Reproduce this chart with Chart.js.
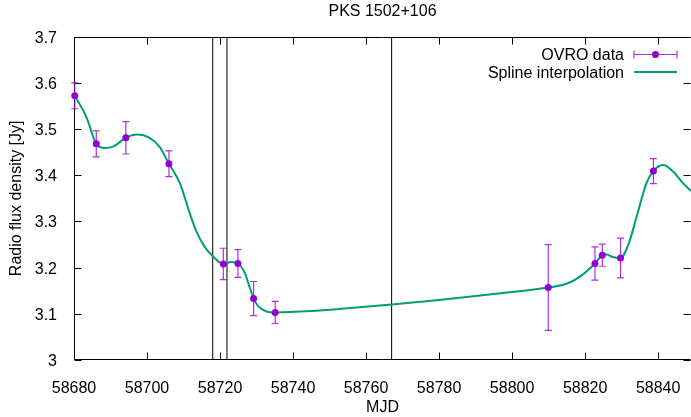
<!DOCTYPE html>
<html>
<head>
<meta charset="utf-8">
<script src="https://cdn.jsdelivr.net/npm/chart.js@4.4.1/dist/chart.umd.min.js"></script>
<style>
  html, body { margin: 0; padding: 0; background: #fff; }
  canvas { display: block; }
</style>
</head>
<body>
<canvas id="lightCurve" width="691" height="417"></canvas>
<script>
// OVRO 15 GHz measurements
const obsMjd  = [58680.2, 58686.1, 58694.2, 58706.0, 58720.9, 58724.9, 58729.2, 58735.1, 58809.9, 58822.7, 58824.7, 58829.7, 58838.7];
const obsFlux = [3.572, 3.468, 3.481, 3.425, 3.208, 3.209, 3.133, 3.103, 3.157, 3.209, 3.227, 3.221, 3.409];
const obsErr  = [0.028, 0.028, 0.035, 0.028, 0.034, 0.030, 0.037, 0.024, 0.093, 0.036, 0.024, 0.043, 0.027];

// spline curve, sampled from the plot
const splineMjd  = [58680.2, 58683.4, 58686.1, 58688.4, 58690.7, 58694.2, 58697.3, 58700.7, 58703.5, 58706.0,
                    58709.0, 58711.7, 58713.5, 58715.8, 58718.1, 58720.9, 58723.1, 58724.9, 58726.8, 58728.0,
                    58729.2, 58730.4, 58732.7, 58735.1, 58745.0, 58755.0, 58767.0, 58780.0, 58795.0, 58809.9,
                    58814.9, 58818.5, 58822.7, 58824.7, 58825.6, 58827.5, 58829.7, 58831.8, 58834.1, 58836.8,
                    58838.7, 58841.4, 58844.1, 58846.8, 58849.0];
const splineFlux = [3.572, 3.526, 3.468, 3.459, 3.462, 3.481, 3.488, 3.481, 3.461, 3.425,
                    3.383, 3.318, 3.279, 3.245, 3.224, 3.208, 3.212, 3.209, 3.188, 3.160,
                    3.133, 3.117, 3.105, 3.103, 3.106, 3.112, 3.120, 3.130, 3.143, 3.157,
                    3.165, 3.180, 3.209, 3.227, 3.229, 3.223, 3.221, 3.249, 3.310, 3.383,
                    3.409, 3.422, 3.408, 3.383, 3.366];

// vertical markers
const markerMjd = [58718.0, 58721.9, 58767.0];

const xMin = 58680, xMax = 58849, xStep = 20;
const yMin = 3, yMax = 3.7, yStep = 0.1;

const FONT = '"Liberation Sans", Arial, Helvetica, sans-serif';
const pointColor = '#9400d3';
const splineColor = '#009e73';

Chart.defaults.font.family = FONT;
Chart.defaults.font.size = 16;
Chart.defaults.color = '#000';

// frame + inward ticks on all four sides, gnuplot style
const frameTicks = {
    id: 'frameTicks',
    beforeDatasetsDraw(chart) {
        const { ctx, chartArea: a, scales: { x, y } } = chart;
        const L = Math.round(a.left) + 0.5, R = Math.round(a.right) - 0.5;
        const T = Math.round(a.top) + 0.5, B = Math.round(a.bottom) - 0.5;
        ctx.save();
        ctx.strokeStyle = '#000';
        ctx.lineWidth = 1;
        ctx.beginPath();
        ctx.moveTo(R, T); ctx.lineTo(L, T); ctx.lineTo(L, B); ctx.lineTo(R, B);
        x.ticks.forEach(t => {
            const px = Math.round(x.getPixelForValue(t.value)) + 0.5;
            ctx.moveTo(px, B); ctx.lineTo(px, B - 7);
            ctx.moveTo(px, T); ctx.lineTo(px, T + 7);
        });
        y.ticks.forEach(t => {
            const py = Math.round(y.getPixelForValue(t.value)) + 0.5;
            ctx.moveTo(L, py); ctx.lineTo(L + 7, py);
            ctx.moveTo(R, py); ctx.lineTo(R - 7, py);
        });
        ctx.stroke();
        ctx.restore();
    }
};

function drawErrorBar(ctx, px, pTop, pBot) {
    ctx.moveTo(px, pTop); ctx.lineTo(px, pBot);
    ctx.moveTo(px - 3.5, pTop); ctx.lineTo(px + 3.5, pTop);
    ctx.moveTo(px - 3.5, pBot); ctx.lineTo(px + 3.5, pBot);
}

// error bars go right under the data points
const errorBars = {
    id: 'errorBars',
    beforeDatasetDraw(chart, args) {
        if (args.index !== 0) return;
        const { ctx, scales: { x, y } } = chart;
        ctx.save();
        ctx.strokeStyle = 'rgba(148, 0, 211, 0.8)';
        ctx.lineWidth = 1.2;
        ctx.beginPath();
        obsMjd.forEach((m, i) => {
            drawErrorBar(ctx, x.getPixelForValue(m),
                y.getPixelForValue(obsFlux[i] + obsErr[i]),
                y.getPixelForValue(obsFlux[i] - obsErr[i]));
        });
        ctx.stroke();
        ctx.restore();
    }
};

const keyBox = {
    id: 'keyBox',
    afterDraw(chart) {
        const { ctx } = chart;
        const textX = 624, x0 = 634, x1 = 677, row1 = 54, row2 = 72;
        ctx.save();
        ctx.font = '16px ' + FONT;
        ctx.fillStyle = '#000';
        ctx.textAlign = 'right';
        ctx.textBaseline = 'middle';
        ctx.fillText('OVRO data', textX, row1 + 1.5);
        ctx.fillText('Spline interpolation', textX, row2 + 1.5);

        ctx.strokeStyle = 'rgba(148, 0, 211, 0.8)';
        ctx.lineWidth = 1.2;
        ctx.beginPath();
        ctx.moveTo(x0, row1 + 0.5); ctx.lineTo(x1, row1 + 0.5);
        ctx.moveTo(x0, row1 - 3.5); ctx.lineTo(x0, row1 + 4.5);
        ctx.moveTo(x1, row1 - 3.5); ctx.lineTo(x1, row1 + 4.5);
        ctx.stroke();
        ctx.fillStyle = pointColor;
        ctx.beginPath();
        ctx.arc((x0 + x1) / 2, row1 + 0.5, 3.5, 0, Math.PI * 2);
        ctx.fill();

        ctx.strokeStyle = splineColor;
        ctx.lineWidth = 2;
        ctx.beginPath();
        ctx.moveTo(x0, row2); ctx.lineTo(x1, row2);
        ctx.stroke();
        ctx.restore();
    }
};

const markerSets = markerMjd.map(m => ({
    type: 'line',
    data: [{ x: m, y: yMin }, { x: m, y: yMax }],
    borderColor: '#000',
    borderWidth: 1,
    pointRadius: 0,
    order: 2
}));

new Chart(document.getElementById('lightCurve'), {
    type: 'scatter',
    data: {
        datasets: [
            {
                label: 'OVRO data',
                data: obsMjd.map((m, i) => ({ x: m, y: obsFlux[i] })),
                pointRadius: 3.5,
                pointBackgroundColor: pointColor,
                pointBorderWidth: 0,
                showLine: false,
                clip: false,
                order: 0
            },
            {
                label: 'Spline interpolation',
                type: 'line',
                data: splineMjd.map((m, i) => ({ x: m, y: splineFlux[i] })),
                borderColor: splineColor,
                borderWidth: 2,
                pointRadius: 0,
                cubicInterpolationMode: 'monotone',
                fill: false,
                order: 1
            },
            ...markerSets
        ]
    },
    options: {
        responsive: false,
        animation: false,
        devicePixelRatio: 1,
        layout: { padding: 0, autoPadding: false },
        plugins: {
            legend: { display: false },
            tooltip: { enabled: false },
            title: {
                display: true,
                text: 'PKS 1502+106',
                fullSize: false,
                color: '#000',
                font: { size: 16, weight: 'normal' },
                padding: { top: 2, bottom: 15.5 }
            }
        },
        scales: {
            x: {
                type: 'linear',
                min: xMin,
                max: xMax,
                grid: { display: false },
                border: { display: false },
                ticks: {
                    stepSize: xStep,
                    includeBounds: false,
                    autoSkip: false,
                    maxRotation: 0,
                    padding: 11,
                    color: '#000',
                    callback: v => String(v)
                },
                title: {
                    display: true,
                    text: 'MJD',
                    color: '#000',
                    padding: { top: 1.4, bottom: 0 }
                },
                afterFit(scale) {
                    scale.height = 57;
                    scale.paddingLeft = 0;
                    scale.paddingRight = 0;
                }
            },
            y: {
                min: yMin,
                max: yMax,
                grid: { display: false },
                border: { display: false },
                ticks: {
                    stepSize: yStep,
                    padding: 9,
                    labelOffset: 1.5,
                    color: '#000',
                    callback: v => String(Number(v.toFixed(1)))
                },
                title: {
                    display: true,
                    text: 'Radio flux density [Jy]',
                    color: '#000',
                    padding: { top: 7, bottom: 0 }
                },
                afterFit(scale) {
                    scale.width = 74;
                    scale.paddingTop = 0;
                    scale.paddingBottom = 0;
                }
            }
        }
    },
    plugins: [frameTicks, errorBars, keyBox]
});
</script>
</body>
</html>
